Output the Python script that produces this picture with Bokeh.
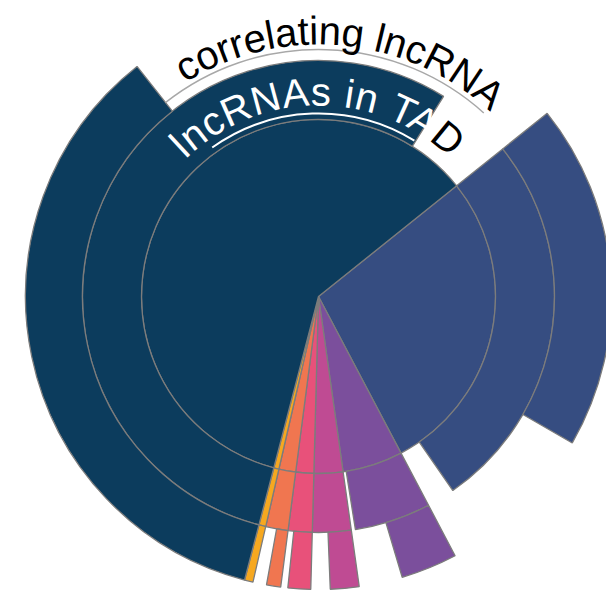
import math
from bokeh.plotting import figure
from bokeh.models import Range1d, ColumnDataSource
from bokeh.embed import file_html
from bokeh.resources import INLINE
from bokeh.core.properties import value

# ---------------- data ----------------
groups = ["g1", "g2", "g3", "g4", "g5", "g6", "g7"]
colors = ["#364d81", "#7b4f9c", "#bf4b93", "#e8517a", "#f07650", "#f6a820", "#0c3c5d"]
all_lnc = [28.03, 5.50, 2.64, 1.64, 1.53, 0.47, 60.19]      # inner ring, % of circle
in_tad = [26.11, 5.22, 2.64, 1.64, 1.53, 0.47, 54.83]       # middle ring
correlating = [19.08, 3.11, 1.58, 1.25, 0.78, 0.47, 35.31]  # outer ring
ring_titles = ["lncRNAs in TAD", "correlating lncRNA"]

# ---------------- layout ----------------
START = 51.3            # compass degrees (clockwise from north) of first segment
RADII = [0, 177, 236, 293]
W, H = 606, 607
CX, CY = 318, 296       # centre, pixels from left / top of plot

p = figure(width=W, height=H, x_range=Range1d(-CX, W - CX), y_range=Range1d(-(H - CY), CY),
           output_backend="svg", toolbar_location=None, min_border=0)
p.axis.visible = False
p.grid.visible = False
p.outline_line_color = None
p.background_fill_color = "white"

starts = []
acc = START
for v in all_lnc:
    starts.append(acc)
    acc += v * 3.6

rings = [all_lnc, in_tad, correlating]
for k, vals in enumerate(rings):
    sa, ea = [], []
    for s, v in zip(starts, vals):
        a, b = s, s + v * 3.6
        sa.append(math.radians(90 - b))
        ea.append(math.radians(90 - a))
    src = ColumnDataSource(dict(x=[0] * len(vals), y=[0] * len(vals), sa=sa, ea=ea, c=colors, g=groups))
    p.annular_wedge(x="x", y="y", inner_radius=RADII[k], outer_radius=RADII[k + 1],
                    start_angle="sa", end_angle="ea", direction="anticlock",
                    fill_color="c", line_color="#7c7c7c", line_width=1.3, source=src)

# decorative arcs
p.arc(x=0, y=0, radius=247, start_angle=math.radians(90 - 42), end_angle=math.radians(90 + 38.3),
      direction="anticlock", line_color="#a8a8a8", line_width=1.5)
p.arc(x=0, y=0, radius=183, start_angle=math.radians(90 - 31.6), end_angle=math.radians(90 + 35.5),
      direction="anticlock", line_color="white", line_width=2)

AW = {'c': 500, 'o': 556, 'r': 333, 'e': 556, 'l': 222, 'a': 556, 't': 278, 'i': 222, 'n': 556,
      'g': 556, ' ': 278, 'R': 722, 'N': 722, 'A': 667, 's': 500, 'T': 611, 'D': 722, 'I': 278}
KERN = {('T', 'A'): -5.0}
BASE_OFF = 11   # renderer draws glyphs a little below the anchor


def arc_text(txt, r, start, size, cols, spacing=0.0):
    xs, ys, angs = [], [], []
    pos = 0.0
    prev = None
    ra = r + BASE_OFF
    for ch in txt:
        pos += KERN.get((prev, ch), 0.0)
        w = AW.get(ch, 556) * size / 1000
        mid = pos + w / 2
        phi = math.radians(start) + mid / r
        xs.append(ra * math.sin(phi))
        ys.append(ra * math.cos(phi))
        angs.append(-phi)
        pos += w + spacing
        prev = ch
    src = ColumnDataSource(dict(x=xs, y=ys, t=list(txt), a=angs, c=cols))
    p.text(x="x", y="y", text="t", angle="a", text_color="c", source=src,
           text_font=value("Liberation Sans"), text_font_size="%dpx" % size,
           text_align="center", text_baseline="alphabetic")


t1 = ring_titles[0]
arc_text(t1, 194, -44.1, 40, ["white"] * (len(t1) - 1) + ["black"], spacing=1.0)
t2 = ring_titles[1]
arc_text(t2, 255, -32.0, 40, ["black"] * len(t2), spacing=0.0)

open("out.html", "w").write(file_html(p, INLINE))
